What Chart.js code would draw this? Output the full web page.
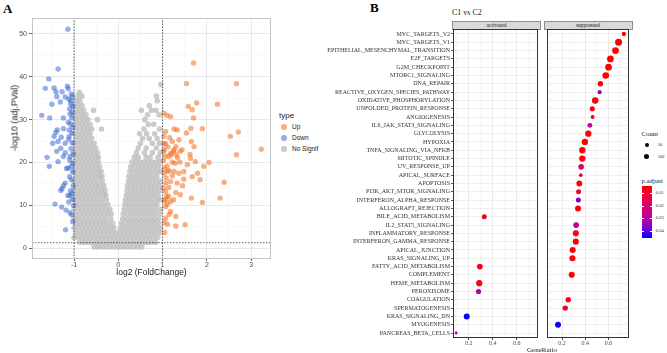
<!DOCTYPE html>
<html lang="en">
<head>
<meta charset="UTF-8">
<title>Volcano plot and hallmark dot plot</title>
<script src="https://cdn.jsdelivr.net/npm/chart.js"></script>
<style>
  * { margin: 0; padding: 0; }
  body {
    width: 667px; height: 353px; position: relative; overflow: hidden;
    background: #fff; font-family: "Liberation Sans", Arial, sans-serif;
  }
  canvas, .abs { position: absolute; }
  .abs { line-height: 1; white-space: nowrap; }
  .serif { font-family: "Liberation Serif", "Times New Roman", serif; }
  .mid { transform: translateY(-50%); }
  .strip {
    box-sizing: border-box; background: #d9d9d9; border: 1px solid #8c8c8c;
    font-size: 5.5px; color: #1a1a1a; text-align: center; line-height: 7px;
  }
</style>
</head>
<body>
  <div class="abs serif" style="left:3px;top:2px;font-size:13px;font-weight:bold">A</div>
  <div class="abs serif" style="left:370px;top:1px;font-size:13px;font-weight:bold">B</div>

  <canvas id="volcano" width="275" height="285" style="left:0;top:0"></canvas>
  <div class="abs" style="left:15px;top:118px;font-size:9px;color:#222;transform:translate(-50%,-50%) rotate(-90deg)">-log10 (adj.PVal)</div>
  <div id="typeLegend"></div>

  <div class="abs serif" style="left:452px;top:9px;font-size:8px;color:#222">C1 vs C2</div>
  <div class="abs strip serif" style="left:452px;top:20.5px;width:89px;height:9px">activated</div>
  <div class="abs strip serif" style="left:543.5px;top:20.5px;width:89px;height:9px">suppressed</div>
  <canvas id="dotActivated" width="230" height="353" style="left:312px;top:0"></canvas>
  <canvas id="dotSuppressed" width="90" height="353" style="left:543px;top:0"></canvas>
  <div class="abs serif" style="left:542px;top:347px;font-size:7px;color:#222;transform:translateX(-50%)">GeneRatio</div>
  <div id="countLegend"></div>
  <div id="padjLegend"></div>

<script>
// ---------- panel A: volcano ----------
const fcRange = [-1.95, 3.45];
const logpRange = [-2.5, 53.7];
const fcTicks = [-1.5, -1, -0.5, 0, 0.5, 1, 1.5, 2, 2.5, 3];       // major at whole numbers
const logpTicks = [0, 5, 10, 15, 20, 25, 30, 35, 40, 45, 50];      // major at tens
const fcCutoff = 1;
const logpCutoff = 1.3;

// not significant genes, one row per -log10 level: [y, x, x, ...]
const greyRows = [
  [0.3, -0.55,-0.46,-0.37,-0.28,-0.19,-0.10,-0.01,0.08,0.17,0.26,0.35,0.44,0.53],
  [1.4, -0.87,-0.78,-0.69,-0.60,-0.51,-0.42,-0.33,-0.24,-0.15,-0.06,0.03,0.12,0.21,0.30,0.39,0.48,0.57,0.66,0.75,0.84],
  [2.5, -1.00,-0.91,-0.82,-0.73,-0.64,-0.55,-0.46,-0.37,-0.28,-0.19,-0.10,-0.01,0.08,0.17,0.26,0.35,0.44,0.53,0.62,0.71,0.80,0.89],
  [3.6, -0.96,-0.87,-0.78,-0.69,-0.60,-0.51,-0.42,-0.33,-0.24,-0.15,-0.06,0.03,0.12,0.21,0.30,0.39,0.48,0.57,0.66,0.75,0.84,0.93],
  [4.7, -1.00,-0.91,-0.82,-0.73,-0.64,-0.55,-0.46,-0.37,-0.28,-0.19,-0.10,0.05,0.14,0.23,0.32,0.41,0.50,0.59,0.68,0.77,0.86,0.95],
  [5.8, -0.96,-0.87,-0.78,-0.69,-0.60,-0.51,-0.42,-0.33,-0.24,-0.13,0.07,0.18,0.27,0.36,0.45,0.54,0.63,0.72,0.81,0.90],
  [6.9, -1.00,-0.91,-0.82,-0.73,-0.64,-0.55,-0.46,-0.37,-0.28,-0.17,0.10,0.19,0.28,0.37,0.46,0.55,0.64,0.73,0.82,0.91],
  [8.0, -0.96,-0.87,-0.78,-0.69,-0.60,-0.51,-0.42,-0.33,-0.24,-0.16,0.11,0.20,0.29,0.38,0.47,0.56,0.65,0.74,0.83,0.93],
  [9.1, -1.00,-0.91,-0.82,-0.73,-0.64,-0.55,-0.46,-0.37,-0.28,-0.19,0.13,0.22,0.31,0.40,0.49,0.58,0.67,0.76,0.85,0.95],
  [10.2, -0.96,-0.87,-0.78,-0.69,-0.60,-0.51,-0.42,-0.33,-0.24,0.15,0.24,0.33,0.42,0.51,0.60,0.69,0.78,0.87],
  [11.3, -1.00,-0.91,-0.82,-0.73,-0.64,-0.55,-0.46,-0.37,-0.27,0.16,0.25,0.34,0.43,0.52,0.61,0.70,0.79,0.88,0.96],
  [12.4, -0.96,-0.87,-0.78,-0.69,-0.60,-0.51,-0.42,-0.33,-0.28,0.18,0.27,0.36,0.45,0.54,0.63,0.72,0.81,0.90],
  [13.5, -1.00,-0.91,-0.82,-0.73,-0.64,-0.55,-0.46,-0.37,-0.30,0.20,0.29,0.38,0.47,0.56,0.65,0.74,0.83,0.93],
  [14.6, -0.96,-0.87,-0.78,-0.69,-0.60,-0.51,-0.42,-0.33,0.21,0.30,0.39,0.48,0.57,0.66,0.75,0.84,0.93],
  [15.7, -1.00,-0.91,-0.82,-0.73,-0.64,-0.55,-0.46,-0.36,0.23,0.32,0.41,0.50,0.59,0.68,0.77,0.86,0.95],
  [16.8, -0.96,-0.87,-0.78,-0.69,-0.60,-0.51,-0.42,-0.37,0.24,0.33,0.42,0.51,0.60,0.69,0.78,0.87],
  [17.9, -1.00,-0.91,-0.82,-0.73,-0.64,-0.55,-0.46,-0.39,0.26,0.35,0.44,0.53,0.62,0.71,0.80,0.89,0.96],
  [19.0, -0.96,-0.87,-0.78,-0.69,-0.60,-0.51,-0.42,0.28,0.37,0.46,0.55,0.64,0.73,0.82,0.91],
  [20.1, -1.00,-0.91,-0.82,-0.73,-0.64,-0.55,-0.45,0.31,0.40,0.49,0.58,0.67,0.76,0.85,0.94],
  [21.2, -0.96,-0.87,-0.78,-0.69,-0.60,-0.51,-0.45,0.36,0.45,0.63,0.72,0.90],
  [22.3, -1.00,-0.91,-0.82,-0.73,-0.64,-0.55,-0.47,0.41,0.59,0.77,0.95],
  [23.4, -0.96,-0.87,-0.78,-0.69,-0.60,-0.51,0.45,0.63,0.86],
  [24.5, -1.00,-0.91,-0.82,-0.73,-0.64,-0.55,0.50,0.77,0.93],
  [25.6, -0.96,-0.87,-0.78,-0.69,-0.60,0.55,0.70,0.88],
  [26.7, -1.00,-0.91,-0.82,-0.73,-0.64,0.48,0.64,0.82],
  [27.8, -0.96,-0.87,-0.78,-0.69,-0.60,-0.38,0.58,0.93],
  [28.9, -1.00,-0.91,-0.82,-0.73,-0.64,0.68,0.80],
  [30.0, -0.96,-0.87,-0.78,-0.69,-0.47,0.60],
  [31.1, -1.00,-0.91,-0.82,-0.73,0.66,0.92],
  [32.2, -0.96,-0.87,-0.78,-0.56,0.52,0.75,0.85],
  [33.3, -1.00,-0.91,-0.82,0.70],
  [34.4, -0.96,-0.87,0.88],
  [35.5, -0.91,-0.82,0.86],
  [36.4, -0.88],
  [38.2, 0.96]
];

// significant genes: [log2FC, -log10 padj]
const downPoints = [
  [-1.14,51.1],[-1.36,41.8],[-1.57,39.5],[-1.65,37.3],[-1.45,37.4],[-1.41,36.5],[-1.27,36.5],[-1.15,37.8],
  [-1.13,37.2],[-1.39,35.4],[-1.20,35.3],[-1.12,34.8],[-1.07,34.4],[-1.04,35.4],[-1.50,33.6],[-1.31,34.1],
  [-1.08,33.7],[-1.03,33.1],[-1.73,31.0],[-1.55,30.4],[-1.24,30.4],[-1.09,31.3],[-1.05,30.4],[-1.13,29.4],
  [-1.38,27.6],[-1.41,27.0],[-1.24,27.9],[-1.11,27.6],[-1.45,26.1],[-1.29,25.9],[-1.11,26.1],[-1.05,26.9],
  [-1.36,24.9],[-1.20,24.5],[-1.48,24.5],[-1.30,23.3],[-1.39,22.6],[-1.20,22.3],[-1.09,21.4],[-1.61,21.2],
  [-1.56,19.1],[-1.36,20.2],[-1.13,18.7],[-1.04,19.8],[-1.24,21.4],[-1.20,15.2],[-1.24,14.6],[-1.27,13.9],
  [-1.30,13.5],[-1.14,12.3],[-1.09,12.3],[-1.43,10.3],[-1.28,9.6],[-1.18,8.9],[-1.09,8.3],[-1.05,7.8],
  [-1.03,6.2],[-1.19,4.3],[-1.01,10.0],[-1.10,16.7],[-1.17,18.6],[-1.06,19.0],[-1.05,12.7],[-1.06,36.0],
  [-1.10,32.5],[-1.04,31.8],[-1.08,29.0],[-1.03,28.2],[-1.12,25.4],[-1.04,24.6],[-1.07,23.2],[-1.02,22.0],
  [-1.10,20.6],[-1.03,17.8],[-1.06,16.0],[-1.02,14.6],[-1.08,13.4],[-1.03,11.4],[-1.12,10.8]
];
const upPoints = [
  [1.70,43.2],[1.54,38.4],[2.67,38.4],[1.77,33.9],[1.58,33.1],[1.67,32.3],[2.24,33.6],[1.70,30.4],
  [1.03,31.5],[1.18,30.7],[1.10,31.0],[1.64,28.0],[1.90,27.9],[1.26,27.8],[1.33,27.6],[1.07,27.2],
  [1.03,26.1],[2.71,27.1],[2.53,26.1],[1.37,25.3],[1.22,24.9],[1.65,24.9],[1.71,23.7],[1.07,24.4],
  [1.30,23.7],[1.26,23.0],[1.44,23.0],[1.18,22.2],[1.03,23.0],[3.23,23.1],[2.67,21.8],[1.62,21.9],
  [1.03,22.6],[1.25,22.6],[1.40,22.6],[1.14,21.4],[1.31,21.8],[1.63,21.0],[1.74,20.2],[2.05,20.0],
  [1.93,19.1],[1.56,19.5],[1.22,20.1],[1.39,20.1],[1.03,17.5],[1.11,17.9],[1.26,17.9],[1.37,17.5],
  [1.48,17.9],[1.79,17.5],[1.67,16.7],[1.48,16.1],[1.18,15.6],[1.33,15.2],[2.39,15.4],[1.07,15.2],
  [1.07,13.2],[1.30,13.0],[1.40,12.5],[1.14,12.1],[1.65,11.7],[1.90,10.7],[2.30,11.7],[1.07,11.4],
  [1.18,10.9],[1.07,9.7],[1.18,8.6],[1.07,7.0],[1.30,7.4],[1.11,5.6],[1.30,5.2],[1.51,5.5],
  [1.05,3.7],[1.02,20.5],[1.06,21.5],[1.10,19.2],[1.15,18.1],[1.20,21.8],[1.12,23.6],[1.04,18.6],
  [1.08,16.4],[1.22,16.9],[1.28,19.8],[1.34,21.1],[1.16,25.8],[1.03,24.4],[1.09,12.1],[1.04,11.0],
  [1.14,14.2],[1.25,11.3],[1.02,14.0],[1.11,10.3],[1.03,6.0],[1.15,7.9],[1.54,26.9],[1.45,14.6],[1.85,16.0]
];
const typeNames = ['Up', 'Down', 'No Signif'];
const typeColors = ['rgba(240,110,30,0.55)', 'rgba(45,95,210,0.5)', 'rgba(188,188,188,0.78)'];

// ---------- panel B: hallmark dot plot ----------
const pathways = [
  'MYC_TARGETS_V2','MYC_TARGETS_V1','EPITHELIAL_MESENCHYMAL_TRANSITION','E2F_TARGETS','G2M_CHECKPOINT',
  'MTORC1_SIGNALING','DNA_REPAIR','REACTIVE_OXYGEN_SPECIES_PATHWAY','OXIDATIVE_PHOSPHORYLATION',
  'UNFOLDED_PROTEIN_RESPONSE','ANGIOGENESIS','IL6_JAK_STAT3_SIGNALING','GLYCOLYSIS','HYPOXIA',
  'TNFA_SIGNALING_VIA_NFKB','MITOTIC_SPINDLE','UV_RESPONSE_UP','APICAL_SURFACE','APOPTOSIS',
  'PI3K_AKT_MTOR_SIGNALING','INTERFERON_ALPHA_RESPONSE','ALLOGRAFT_REJECTION','BILE_ACID_METABOLISM',
  'IL2_STAT5_SIGNALING','INFLAMMATORY_RESPONSE','INTERFERON_GAMMA_RESPONSE','APICAL_JUNCTION',
  'KRAS_SIGNALING_UP','FATTY_ACID_METABOLISM','COMPLEMENT','HEME_METABOLISM','PEROXISOME','COAGULATION',
  'SPERMATOGENESIS','KRAS_SIGNALING_DN','MYOGENESIS','PANCREAS_BETA_CELLS'
];
// A = activated, S = suppressed
const pathwayGroup = ['S','S','S','S','S','S','S','S','S','S','S','S','S','S','S','S','S','S','S','S','S','S',
  'A','S','S','S','S','S','A','S','A','A','S','S','A','S','A'];
const geneRatio = [0.732,0.686,0.660,0.616,0.600,0.576,0.530,0.523,0.485,0.460,0.463,0.439,0.426,0.396,0.374,
  0.374,0.364,0.361,0.348,0.342,0.340,0.337,0.330,0.321,0.318,0.318,0.291,0.289,0.293,0.283,0.288,0.282,
  0.253,0.227,0.184,0.165,0.096];
const geneCount = [60,175,165,160,160,155,100,55,145,90,50,80,140,140,140,140,105,40,120,85,85,125,85,115,
  130,130,130,130,115,130,135,90,100,100,125,125,20];
const pAdjust = [0.004,0.004,0.004,0.004,0.004,0.004,0.005,0.033,0.005,0.006,0.007,0.028,0.005,0.004,0.004,
  0.005,0.018,0.009,0.006,0.012,0.037,0.006,0.007,0.026,0.005,0.005,0.005,0.006,0.008,0.005,0.007,0.030,
  0.008,0.009,0.0458,0.045,0.031];
const ratioRange = [0.07, 0.776];
const ratioTicks = [0.1, 0.2, 0.3, 0.4, 0.5, 0.6, 0.7];           // labelled at 0.2 steps
const pAdjRange = [0.004, 0.0458];
const countBreaks = [50, 100];
const pAdjBreaks = [0.01, 0.02, 0.03, 0.04];

const sans = '"Liberation Sans", Arial, sans-serif';
const serif = '"Liberation Serif", "Times New Roman", serif';
const isStep = (v, s) => Math.abs(v / s - Math.round(v / s)) < 1e-6;
const countRadius = c => Math.sqrt(0.7 + 0.066 * c);
const fixedTicks = list => s => { s.ticks = list.map(v => ({ value: v })); };

// red -> blue, stops taken from a Lab blend
const pStops = [[255,0,0],[232,0,79],[202,0,137],[154,0,195],[0,0,255]];
function pColor(p) {
  let t = (p - pAdjRange[0]) / (pAdjRange[1] - pAdjRange[0]);
  t = Math.min(1, Math.max(0, t)) * (pStops.length - 1);
  const i = Math.min(Math.floor(t), pStops.length - 2), f = t - i;
  const c = pStops[i].map((v, k) => Math.round(v + (pStops[i + 1][k] - v) * f));
  return 'rgb(' + c.join(',') + ')';
}

// frame round the plotting panel
const panelBorder = {
  id: 'panelBorder',
  afterDraw(chart, args, opts) {
    const {ctx, chartArea: a} = chart;
    ctx.save();
    ctx.strokeStyle = opts.color;
    ctx.lineWidth = 1;
    ctx.strokeRect(Math.round(a.left) + 0.5, Math.round(a.top) + 0.5,
                   Math.round(a.width) - 1, Math.round(a.height) - 1);
    ctx.restore();
  }
};

// ---------- draw A ----------
const greyPoints = greyRows.flatMap(([y, ...xs]) => xs.map(x => ({x, y})));
const toXY = pts => pts.map(([x, y]) => ({x, y}));
const cutLine = pts => ({
  type: 'line', data: pts, borderColor: '#3a3a3a', borderWidth: 0.8, borderDash: [1.5, 1.5],
  pointRadius: 0, fill: false, order: 1
});

new Chart(document.getElementById('volcano'), {
  type: 'scatter',
  data: {
    datasets: [
      { label: typeNames[0], data: toXY(upPoints), backgroundColor: typeColors[0], pointRadius: 2.7, pointBorderWidth: 0, order: 2 },
      { label: typeNames[1], data: toXY(downPoints), backgroundColor: typeColors[1], pointRadius: 2.7, pointBorderWidth: 0, order: 2 },
      { label: typeNames[2], data: greyPoints, backgroundColor: typeColors[2], pointRadius: 2.8, pointBorderWidth: 0, order: 3 },
      cutLine([{x: -fcCutoff, y: logpRange[0]}, {x: -fcCutoff, y: logpRange[1]}]),
      cutLine([{x: fcCutoff, y: logpRange[0]}, {x: fcCutoff, y: logpRange[1]}]),
      cutLine([{x: fcRange[0], y: logpCutoff}, {x: fcRange[1], y: logpCutoff}])
    ]
  },
  plugins: [panelBorder],
  options: {
    responsive: false, animation: false, events: [],
    layout: { padding: { top: 18, right: 4, left: 0, bottom: 0 } },
    plugins: { legend: { display: false }, tooltip: { enabled: false }, panelBorder: { color: '#c4c4c4' } },
    scales: {
      x: {
        type: 'linear', min: fcRange[0], max: fcRange[1],
        afterBuildTicks: fixedTicks(fcTicks),
        afterFit: s => { s.height = 26; },
        border: { display: false },
        grid: {
          color: c => c.tick && isStep(c.tick.value, 1) ? '#e6e6e6' : '#f2f2f2',
          lineWidth: c => c.tick && isStep(c.tick.value, 1) ? 0.9 : 0.5,
          tickColor: c => c.tick && isStep(c.tick.value, 1) ? '#555' : 'rgba(0,0,0,0)',
          tickLength: 2
        },
        ticks: {
          autoSkip: false, maxRotation: 0, padding: 0, color: '#4d4d4d',
          font: { family: sans, size: 7 },
          callback: v => isStep(v, 1) ? String(v) : ''
        },
        title: { display: true, text: 'log2 (FoldChange)', color: '#222', font: { family: sans, size: 8.5 }, padding: { top: 0, bottom: 7 } }
      },
      y: {
        type: 'linear', min: logpRange[0], max: logpRange[1],
        afterBuildTicks: fixedTicks(logpTicks),
        afterFit: s => { s.width = 32; },
        border: { display: false },
        grid: {
          color: c => c.tick && isStep(c.tick.value, 10) ? '#e6e6e6' : '#f2f2f2',
          lineWidth: c => c.tick && isStep(c.tick.value, 10) ? 0.9 : 0.5,
          tickColor: c => c.tick && isStep(c.tick.value, 10) ? '#555' : 'rgba(0,0,0,0)',
          tickLength: 3
        },
        ticks: {
          autoSkip: false, padding: 2, color: '#4d4d4d',
          font: { family: sans, size: 7 },
          callback: v => isStep(v, 10) ? String(v) : ''
        }
      }
    }
  }
});

// legend for A
(function () {
  const box = document.getElementById('typeLegend');
  let html = '<div class="abs mid" style="left:279px;top:116px;font-size:8px;color:#222">type</div>';
  const rows = [127, 138, 149];
  typeNames.forEach((name, i) => {
    html += '<div class="abs" style="left:281.3px;top:' + (rows[i] - 2.7) + 'px;width:5.4px;height:5.4px;border-radius:50%;background:' + typeColors[i] + '"></div>';
    html += '<div class="abs mid" style="left:292px;top:' + rows[i] + 'px;font-size:6.5px;color:#222">' + name + '</div>';
  });
  box.innerHTML = html;
})();

// ---------- draw B ----------
function dotPanel(id, key, showLabels) {
  const idx = pathways.map((_, i) => i).filter(i => pathwayGroup[i] === key);
  return new Chart(document.getElementById(id), {
    type: 'bubble',
    data: {
      datasets: [{
        data: idx.map(i => ({ x: geneRatio[i], y: i, r: countRadius(geneCount[i]) })),
        backgroundColor: idx.map(i => pColor(pAdjust[i])),
        borderWidth: 0
      }]
    },
    plugins: [panelBorder],
    options: {
      responsive: false, animation: false, events: [],
      layout: { padding: { top: 29, right: 1, left: showLabels ? 0 : 1, bottom: 0 } },
      plugins: { legend: { display: false }, tooltip: { enabled: false }, panelBorder: { color: '#333' } },
      scales: {
        x: {
          type: 'linear', min: ratioRange[0], max: ratioRange[1],
          afterBuildTicks: fixedTicks(ratioTicks),
          afterFit: s => { s.height = 15; },
          border: { display: false },
          grid: {
            color: c => c.tick && isStep(c.tick.value, 0.2) ? '#e8e8e8' : '#f3f3f3',
            lineWidth: c => c.tick && isStep(c.tick.value, 0.2) ? 0.9 : 0.5,
            tickColor: c => c.tick && isStep(c.tick.value, 0.2) ? '#333' : 'rgba(0,0,0,0)',
            tickLength: 2
          },
          ticks: {
            autoSkip: false, maxRotation: 0, padding: 0, color: '#4d4d4d',
            font: { family: serif, size: 6 },
            callback: v => isStep(v, 0.2) ? v.toFixed(1) : ''
          }
        },
        y: {
          type: 'linear', reverse: true, min: -0.6, max: pathways.length - 0.4,
          afterBuildTicks: fixedTicks(pathways.map((_, i) => i)),
          afterFit: s => { s.width = showLabels ? 141 : 0; },
          border: { display: false },
          grid: { color: '#ebebeb', lineWidth: 0.8, drawTicks: showLabels, tickColor: '#333', tickLength: 2 },
          ticks: {
            display: showLabels, autoSkip: false, padding: 1, color: '#333',
            font: { family: serif, size: 6 },
            callback: v => pathways[v]
          }
        }
      }
    }
  });
}
dotPanel('dotActivated', 'A', true);
dotPanel('dotSuppressed', 'S', false);

// size legend
(function () {
  const box = document.getElementById('countLegend');
  let html = '<div class="abs mid serif" style="left:641.5px;top:134px;font-size:6.8px;color:#222">Count</div>';
  const rows = [145, 156.7];
  countBreaks.forEach((c, i) => {
    const r = countRadius(c);
    html += '<div class="abs" style="left:' + (646.7 - r) + 'px;top:' + (rows[i] - r) + 'px;width:' + 2 * r + 'px;height:' + 2 * r + 'px;border-radius:50%;background:#000"></div>';
    html += '<div class="abs mid serif" style="left:657.5px;top:' + rows[i] + 'px;font-size:4.6px;color:#333">' + c + '</div>';
  });
  box.innerHTML = html;
})();

// colour bar legend
(function () {
  const box = document.getElementById('padjLegend');
  const top = 185.7, bottom = 238.3, left = 641.7, width = 10.6;
  const pTop = 0.004, pBottom = 0.0458;
  const yOf = p => top + (p - pTop) / (pBottom - pTop) * (bottom - top);
  const stops = [];
  for (let k = 0; k <= 10; k++) {
    const p = pTop + (pBottom - pTop) * k / 10;
    stops.push(pColor(p) + ' ' + (k * 10) + '%');
  }
  let html = '<div class="abs mid serif" style="left:641.5px;top:181px;font-size:6.8px;color:#222">p.adjust</div>';
  html += '<div class="abs" style="left:' + left + 'px;top:' + top + 'px;width:' + width + 'px;height:' + (bottom - top) + 'px;background:linear-gradient(to bottom,' + stops.join(',') + ')"></div>';
  pAdjBreaks.forEach(p => {
    const y = yOf(p);
    html += '<div class="abs" style="left:' + left + 'px;top:' + (y - 0.3) + 'px;width:2px;height:0.6px;background:#fff"></div>';
    html += '<div class="abs" style="left:' + (left + width - 2) + 'px;top:' + (y - 0.3) + 'px;width:2px;height:0.6px;background:#fff"></div>';
    html += '<div class="abs mid serif" style="left:655.7px;top:' + y + 'px;font-size:4.6px;color:#333">' + p.toFixed(2) + '</div>';
  });
  box.innerHTML = html;
})();
</script>
</body>
</html>
